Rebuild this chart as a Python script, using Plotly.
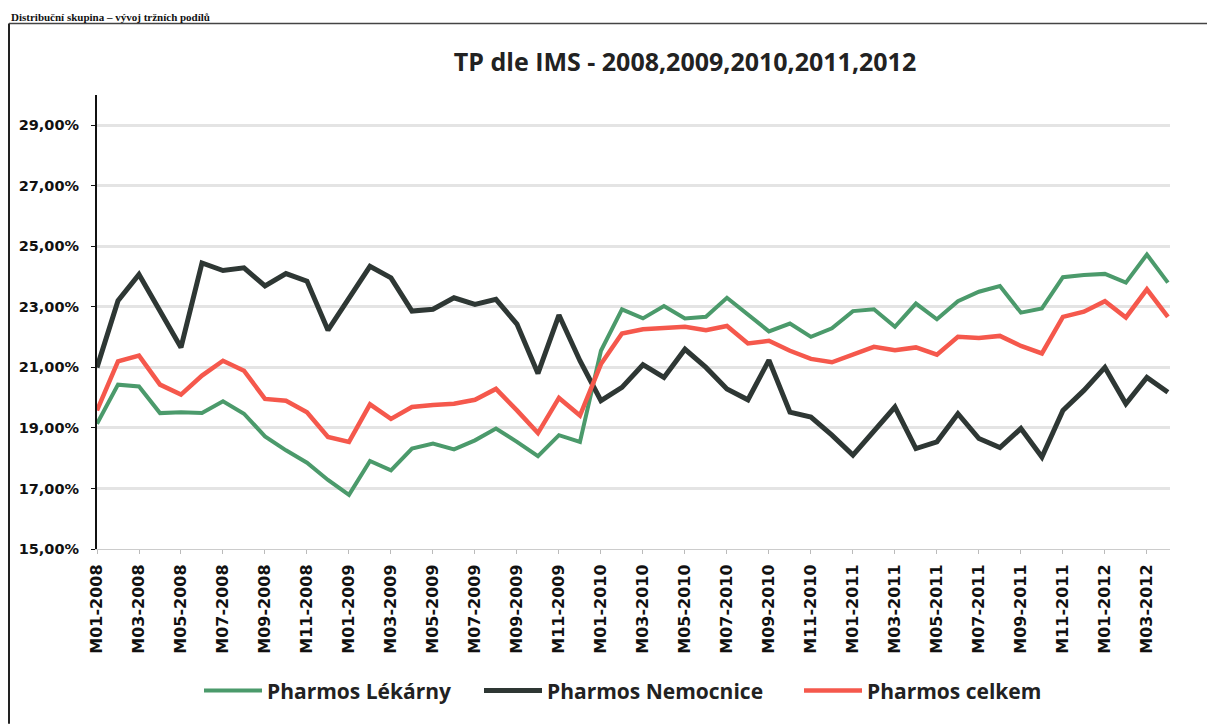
import plotly.graph_objects as go

months = [f"M{m:02d}-{y}" for y in range(2008, 2013) for m in range(1, 13)][:52]

lekarny = [19.14, 20.43, 20.37, 19.49, 19.52, 19.49, 19.88, 19.47, 18.72, 18.26,
           17.85, 17.28, 16.79, 17.91, 17.60, 18.32, 18.48, 18.29, 18.59, 18.98,
           18.54, 18.07, 18.76, 18.54, 21.55, 22.92, 22.62, 23.03, 22.62, 22.67,
           23.30, 22.73, 22.19, 22.45, 22.01, 22.29, 22.86, 22.92, 22.34, 23.11,
           22.59, 23.19, 23.50, 23.69, 22.81, 22.95, 23.98, 24.05, 24.09, 23.80,
           24.73, 23.80]

nemocnice = [21.00, 23.20, 24.07, 22.85, 21.66, 24.45, 24.20, 24.29, 23.69, 24.10,
             23.85, 22.23, 23.30, 24.34, 23.96, 22.86, 22.92, 23.30, 23.08, 23.25,
             22.43, 20.80, 22.73, 21.22, 19.90, 20.34, 21.09, 20.67, 21.60, 21.00,
             20.29, 19.93, 21.24, 19.52, 19.36, 18.76, 18.10, 18.92, 19.69, 18.32,
             18.54, 19.47, 18.65, 18.35, 18.98, 18.04, 19.58, 20.24, 21.00, 19.80,
             20.67, 20.18]

celkem = [19.58, 21.20, 21.39, 20.43, 20.10, 20.73, 21.22, 20.89, 19.96, 19.90,
          19.52, 18.70, 18.54, 19.78, 19.30, 19.69, 19.76, 19.80, 19.93, 20.29,
          19.58, 18.83, 19.99, 19.41, 21.11, 22.12, 22.26, 22.29, 22.34, 22.23,
          22.37, 21.79, 21.88, 21.55, 21.28, 21.17, 21.44, 21.68, 21.57, 21.66,
          21.42, 22.01, 21.97, 22.04, 21.71, 21.46, 22.67, 22.84, 23.19, 22.65,
          23.58, 22.67]

series_names = ["Pharmos Lékárny", "Pharmos Nemocnice", "Pharmos celkem"]
series_colors = ["#4B9A6B", "#2E3734", "#F5584C"]
series_widths = [4, 5, 4.5]
tick_labels = months[::2]
y_ticks = [15, 17, 19, 21, 23, 25, 27, 29]

# page body has an 8px margin; figure coordinates = screen coordinates - 8
OFF = 8
FW, FH = 1215 - OFF, 724 - OFF
PL, PR, PT, PB = 97, 1170, 94.5, 549   # plot area in screen pixels
L, R, T, B = PL - OFF, 1215 - PR, PT - OFF, 724 - PB
H = FH - T - B
W = FW - L - R

def py(sy):
    return (PB - sy) / H

def px(sx):
    return (sx - PL) / W

legend_ids = ["legend", "legend2", "legend3"]
legend_left = [205, 485, 805]

fig = go.Figure()
for name, vals, col, w, lg in zip(series_names, [lekarny, nemocnice, celkem],
                                  series_colors, series_widths, legend_ids):
    fig.add_trace(go.Scatter(
        x=months, y=[v / 100 for v in vals], mode="lines", name=name,
        line=dict(color=col, width=w), legend=lg))

legend_font = dict(family="Open Sans", size=21, color="#222", weight="bold")
legends = {}
for lg, lx in zip(legend_ids, legend_left):
    legends[lg] = dict(orientation="h", x=px(lx - 6), xanchor="left", y=py(691),
                       yanchor="middle", font=legend_font, itemwidth=58,
                       bgcolor="rgba(0,0,0,0)")

fig.update_layout(
    width=FW, height=FH,
    margin=dict(l=L, r=R, t=T, b=B, autoexpand=False),
    paper_bgcolor="white", plot_bgcolor="white",
    showlegend=True,
    title=dict(text="TP dle IMS - 2008,2009,2010,2011,2012",
               x=px(685), xanchor="center", xref="paper", y=1 - (62 - OFF) / FH, yanchor="middle",
               font=dict(family="Open Sans", size=25, color="#222", weight="bold")),
    **legends,
)

fig.update_xaxes(
    type="category", categoryorder="array", categoryarray=months,
    range=[0, 51.1], tickmode="array", tickvals=tick_labels, ticktext=tick_labels,
    tickangle=-90, tickfont=dict(family="DejaVu Sans", size=16, color="#111", weight="bold"),
    showgrid=False, showline=True, linecolor="#cccccc", linewidth=1,
    ticks="outside", ticklen=4, tickcolor="#bbbbbb", automargin=False,
    ticklabelstandoff=4,
)
fig.update_yaxes(
    range=[0.15, 0.30], tickmode="array", tickvals=[v / 100 for v in y_ticks],
    ticktext=[f"{v:.2f}%".replace(".", ",") for v in y_ticks],
    tickfont=dict(family="DejaVu Sans", size=14.5, color="#111", weight="bold"),
    showgrid=True, gridcolor="#e4e4e4", gridwidth=2.5,
    showline=True, linecolor="#111", linewidth=2,
    ticks="outside", ticklen=4, tickcolor="#111", zeroline=False, automargin=False,
    ticklabelstandoff=9,
)

# outer frame of the scanned chart
fig.add_shape(type="line", xref="paper", yref="paper",
              x0=px(9), x1=px(9), y0=py(23), y1=py(724), line=dict(color="#222", width=2))
fig.add_shape(type="line", xref="paper", yref="paper",
              x0=px(9), x1=px(1215), y0=py(23), y1=py(23), line=dict(color="#444", width=1.5))

# heading above the chart frame
fig.add_annotation(text="Distribuční skupina – vývoj tržních podílů",
                   xref="paper", yref="paper", x=px(9), y=py(OFF), xanchor="left", yanchor="top",
                   showarrow=False,
                   font=dict(family="Liberation Serif", size=11, color="#111", weight="bold"))

fig.write_html("out.html")
